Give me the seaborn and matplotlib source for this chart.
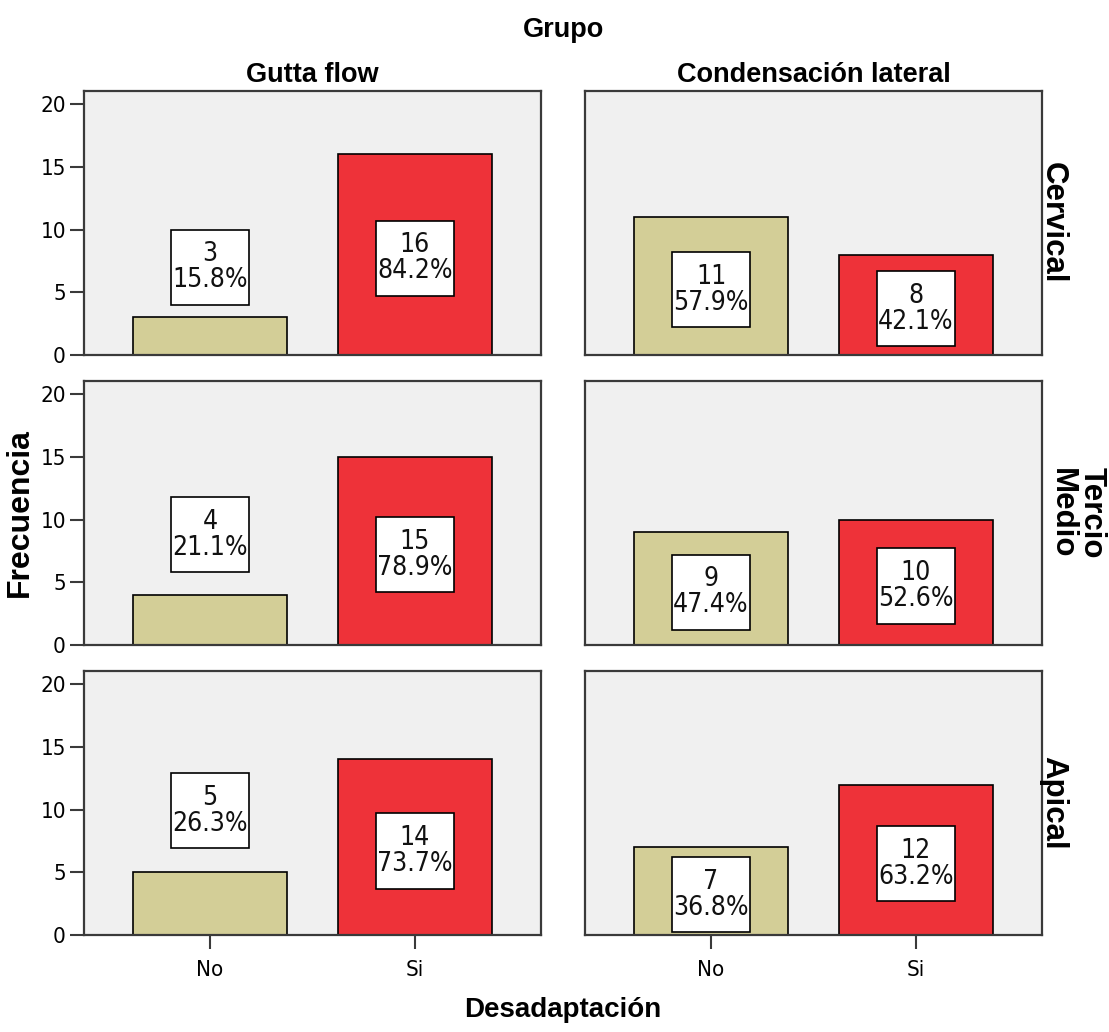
import matplotlib
matplotlib.use('Agg')
import matplotlib.pyplot as plt
import seaborn as sns
import pandas as pd
from matplotlib import font_manager
from matplotlib.patches import Rectangle

# ---------------- data ----------------
grupos = ['Gutta flow', 'Condensación lateral']
tercios = ['Cervical', 'Tercio\nMedio', 'Apical']
categorias = ['No', 'Si']

gutta_no = [3, 4, 5]
gutta_si = [16, 15, 14]
cond_no = [11, 9, 7]
cond_si = [8, 10, 12]

gutta_no_pct = [15.8, 21.1, 26.3]
gutta_si_pct = [84.2, 78.9, 73.7]
cond_no_pct = [57.9, 47.4, 36.8]
cond_si_pct = [42.1, 52.6, 63.2]

y_ticks = [0, 5, 10, 15, 20]

# ---------------- style ----------------
COL_NO = '#d3ce97'
COL_SI = '#ee3239'
BG = '#f0f0f0'
SPINE = '#3a3a3a'

plt.rcParams['font.family'] = ['Liberation Sans', 'DejaVu Sans']

# find a narrow / condensed regular font, if any is installed
narrow_file = None
prefs = ['liberation sans narrow', 'arial narrow', 'dejavu sans', 'roboto condensed',
         'open sans condensed', 'noto sans']
cands = []
for f in font_manager.fontManager.ttflist:
    nm = f.name.lower()
    fn = f.fname.lower()
    is_narrow = ('narrow' in nm or 'condensed' in nm or 'narrow' in fn
                 or 'condensed' in fn or str(f.stretch) in ('condensed', 'semi-condensed', '75', '87.5'))
    if not is_narrow:
        continue
    if f.style != 'normal':
        continue
    w = f.weight
    if w not in (400, 'normal', 'regular', 'book'):
        continue
    rank = len(prefs)
    for k, p in enumerate(prefs):
        if nm.startswith(p):
            rank = k
            break
    cands.append((rank, f.fname))
cands.sort()
if cands:
    narrow_file = cands[0][1]

if narrow_file:
    NP = lambda s: font_manager.FontProperties(fname=narrow_file, size=s)
    BOX_FS, TICK_FS = 19, 16
else:
    NP = lambda s: font_manager.FontProperties(family='Liberation Sans', size=s)
    BOX_FS, TICK_FS = 17, 15

W, H = 1109, 1032
fig = plt.figure(figsize=(W / 100, H / 100), dpi=100)

col_x = [(84, 541), (585, 1042)]
row_y = [(91, 355), (381, 645), (671, 935)]

# label centre for bars too short to hold the label (row, col) -> y
outside_center = {(0, 0): 7.0, (1, 0): 8.8, (2, 0): 9.9}

values = {0: (gutta_no, gutta_si, gutta_no_pct, gutta_si_pct),
          1: (cond_no, cond_si, cond_no_pct, cond_si_pct)}

for r in range(3):
    for c in range(2):
        x0, x1 = col_x[c]
        y0, y1 = row_y[r]
        ax = fig.add_axes([x0 / W, 1 - y1 / H, (x1 - x0) / W, (y1 - y0) / H])
        ax.set_facecolor(BG)
        no, si, nop, sip = values[c]
        df = pd.DataFrame({'Desadaptación': categorias,
                           'Frecuencia': [no[r], si[r]],
                           'pct': [nop[r], sip[r]]})
        sns.barplot(data=df, x='Desadaptación', y='Frecuencia', hue='Desadaptación',
                    palette={'No': COL_NO, 'Si': COL_SI}, width=0.755,
                    edgecolor='black', linewidth=1.2, saturation=1,
                    legend=False, ax=ax)
        ax.set_xlim(-0.615, 1.615)
        ax.set_ylim(0, 21.05)
        ax.set_xlabel('')
        ax.set_ylabel('')
        for sp in ax.spines.values():
            sp.set_visible(True)
            sp.set_color(SPINE)
            sp.set_linewidth(1.6)
        ax.set_yticks(y_ticks)
        ax.set_yticklabels([str(t) for t in y_ticks])
        for lab in ax.get_yticklabels():
            lab.set_fontproperties(NP(TICK_FS))
        ax.tick_params(axis='y', length=10, width=1.5, color=SPINE, pad=3)
        ax.tick_params(axis='x', length=10, width=1.5, color=SPINE, pad=8)
        for lab in ax.get_xticklabels():
            lab.set_fontproperties(NP(TICK_FS))
        if c == 1:
            ax.tick_params(axis='y', left=False, labelleft=False)
        if r < 2:
            ax.tick_params(axis='x', bottom=False, labelbottom=False)

        for i, (v, p) in enumerate(zip(df['Frecuencia'], df['pct'])):
            if v >= 6.5:
                cy = v / 2 - 0.3
            else:
                cy = outside_center[(r, c)]
            ax.add_patch(Rectangle((i - 0.192, cy - 3.0), 0.384, 6.0,
                                   facecolor='white', edgecolor='black',
                                   linewidth=1.2, zorder=4))
            ax.text(i, cy, f'{v}\n{p:.1f}%', ha='center', va='center',
                    fontproperties=NP(BOX_FS), linespacing=1.0,
                    color='#111111', zorder=5)

# ---------------- titles ----------------
fig.text(563 / W, 1 - 30 / H, 'Grupo', ha='center', va='center',
         fontsize=19.5, weight='bold')
for c, g in enumerate(grupos):
    xm = (col_x[c][0] + col_x[c][1]) / 2
    fig.text(xm / W, 1 - 75 / H, g, ha='center', va='center',
             fontsize=19.5, weight='bold')
for r, t in enumerate(tercios):
    ym = (row_y[r][0] + row_y[r][1]) / 2
    xc = 1053 if '\n' not in t else 1077
    fig.text(xc / W, 1 - ym / H, t, ha='center', va='center', rotation=270,
             fontsize=22.5, weight='bold', linespacing=1.0)
fig.text(20 / W, 1 - 513 / H, 'Frecuencia', ha='center', va='center',
         rotation=90, fontsize=23, weight='bold')
fig.text(563 / W, 1 - 1010 / H, 'Desadaptación', ha='center', va='center',
         fontsize=20, weight='bold')

fig.savefig('out.png', dpi=100, facecolor='white')
